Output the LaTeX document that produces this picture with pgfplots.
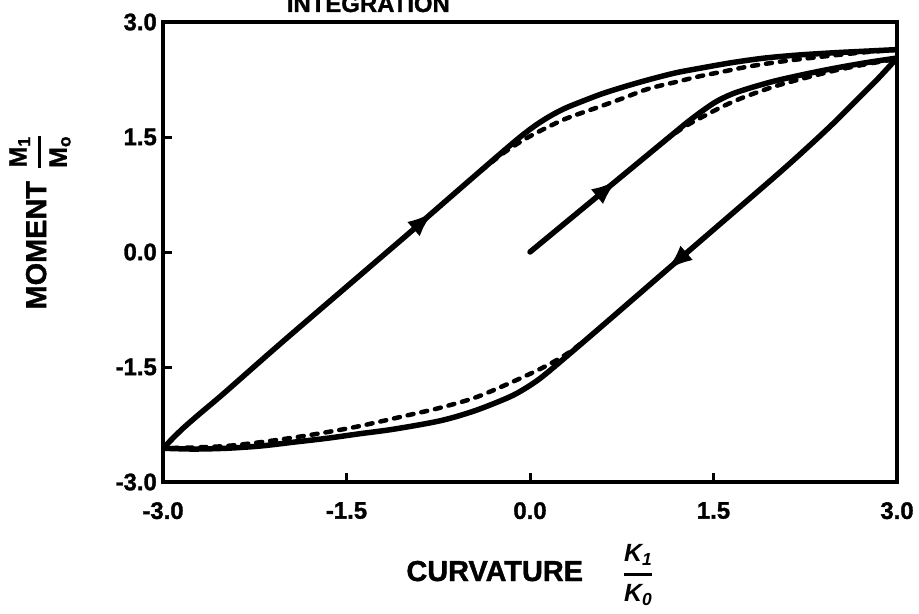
\documentclass[border=0pt]{standalone}
\usepackage{amsmath}
\usepackage{fontspec}
\setmainfont{Liberation Sans}[BoldFeatures={FakeBold=1.3}]
\usepackage{pgfplots}
\pgfplotsset{compat=1.18}
\usetikzlibrary{arrows.meta,decorations.markings}

\tikzset{
  solidcurve/.style={line width=5.5bp, line cap=round, line join=round, black},
  dashcurve/.style={line width=4.5bp, line cap=round, black, dash pattern=on 6bp off 8bp},
  arrowat/.style={postaction={decorate}, decoration={markings,
     mark=at position #1 with {\arrow{Latex[length=27bp,width=19bp]}}}},
}

\begin{document}
\begin{tikzpicture}
\path[use as bounding box] (0,0) rectangle (919bp,614bp);
\begin{axis}[
  at={(163bp,132bp)}, anchor=south west,
  width=734bp, height=460bp, scale only axis,
  xmin=-3, xmax=3, ymin=-3, ymax=3,
  axis line style={line width=3.5bp},
  xtick={-3,-1.5,0,1.5,3}, ytick={-3,-1.5,0,1.5,3},
  xticklabels={-3.0,-1.5,0.0,1.5,3.0},
  yticklabels={-3.0,-1.5,0.0,1.5,3.0},
  xtick pos=bottom, ytick pos=left, tick align=inside,
  major tick length=9bp,
  tick style={line width=3bp, black},
  ticklabel style={font=\fontsize{24}{24}\selectfont\bfseries},
  xticklabel style={anchor=north, inner sep=0pt, yshift=-20bp},
  yticklabel style={anchor=east, inner sep=0pt, xshift=-6bp},
  xlabel={CURVATURE\hspace{40bp}$\genfrac{}{}{2.8pt}{0}{\mbox{\fontsize{25}{25}\selectfont\bfseries\itshape K\textsubscript{1}}}{\mbox{\fontsize{25}{25}\selectfont\bfseries\itshape K\textsubscript{0}}}$},
  ylabel={MOMENT\hspace{12bp}$\genfrac{}{}{2.8pt}{0}{\mbox{\fontsize{25}{25}\selectfont\bfseries M\textsubscript{1}}}{\mbox{\fontsize{25}{25}\selectfont\bfseries M\textsubscript{o}}}$},
  xlabel style={at={(axis description cs:0.5,-0.202)}, anchor=center, font=\fontsize{29}{29}\selectfont\bfseries},
  ylabel style={at={(axis description cs:-0.1676,0.565)}, anchor=center, font=\fontsize{29}{29}\selectfont\bfseries},
]
% initial loading (solid)
\addplot[solidcurve, smooth, arrowat=114bp] coordinates {
 (0,0) (0.6,0.79) (1.2,1.58) (1.30,1.71) (1.40,1.83) (1.52,1.96) (1.65,2.06)
 (1.80,2.14) (2.0,2.23) (2.25,2.32) (2.5,2.40) (2.75,2.47) (3.0,2.53)};
% initial loading (dashed)
\addplot[dashcurve, smooth] coordinates {
 (1.1,1.45) (1.26,1.63) (1.43,1.78) (1.59,1.91) (1.75,2.02) (1.98,2.15)
 (2.2,2.25) (2.5,2.37) (2.75,2.45) (3.0,2.52)};
% unloading (solid)
\addplot[solidcurve, smooth, arrowat=314bp] coordinates {
 (3.0,2.53) (2.85,2.27) (2.7,2.03) (2.5,1.71) (2.3,1.41) (2.0,0.98) (1.23,-0.08)
 (0.6,-0.95) (0.3,-1.36) (0.09,-1.64) (-0.05,-1.79) (-0.18,-1.90) (-0.45,-2.07)
 (-0.73,-2.20) (-1.11,-2.31) (-1.39,-2.37) (-1.66,-2.43) (-1.93,-2.48)
 (-2.2,-2.53) (-2.48,-2.56) (-2.75,-2.57) (-3.0,-2.56)};
% unloading (dashed)
\addplot[dashcurve, smooth] coordinates {
 (0.5,-1.09) (0.3,-1.33) (0.09,-1.52) (-0.18,-1.72) (-0.45,-1.90) (-0.73,-2.03)
 (-1.0,-2.13) (-1.39,-2.27) (-1.66,-2.35) (-1.93,-2.42) (-2.2,-2.48)
 (-2.48,-2.53) (-2.75,-2.55) (-3.0,-2.56)};
% reloading (solid)
\addplot[solidcurve, smooth, arrowat=360bp] coordinates {
 (-3.0,-2.56) (-2.85,-2.32) (-2.7,-2.11) (-2.5,-1.84) (-2.0,-1.14) (-1.0,0.23)
 (-0.8,0.51) (-0.2,1.34) (0.0,1.60) (0.14,1.75) (0.28,1.87) (0.45,1.98)
 (0.6,2.07) (0.8,2.17) (1.0,2.26) (1.2,2.34) (1.4,2.40) (1.65,2.47)
 (1.92,2.53) (2.2,2.57) (2.5,2.60) (2.75,2.62) (3.0,2.64)};
% reloading (dashed)
\addplot[dashcurve, smooth] coordinates {
 (-0.4,1.06) (-0.2,1.31) (0.0,1.51) (0.28,1.73) (0.56,1.89) (0.75,2.0)
 (0.97,2.13) (1.2,2.22) (1.38,2.29) (1.6,2.36) (1.79,2.42) (2.08,2.49)
 (2.4,2.55) (2.7,2.60) (3.0,2.64)};
\end{axis}
\node[anchor=base east, inner sep=0pt, font=\fontsize{24}{24}\selectfont\bfseries] at (450bp,602bp) {INTEGRATION};
\end{tikzpicture}
\end{document}
